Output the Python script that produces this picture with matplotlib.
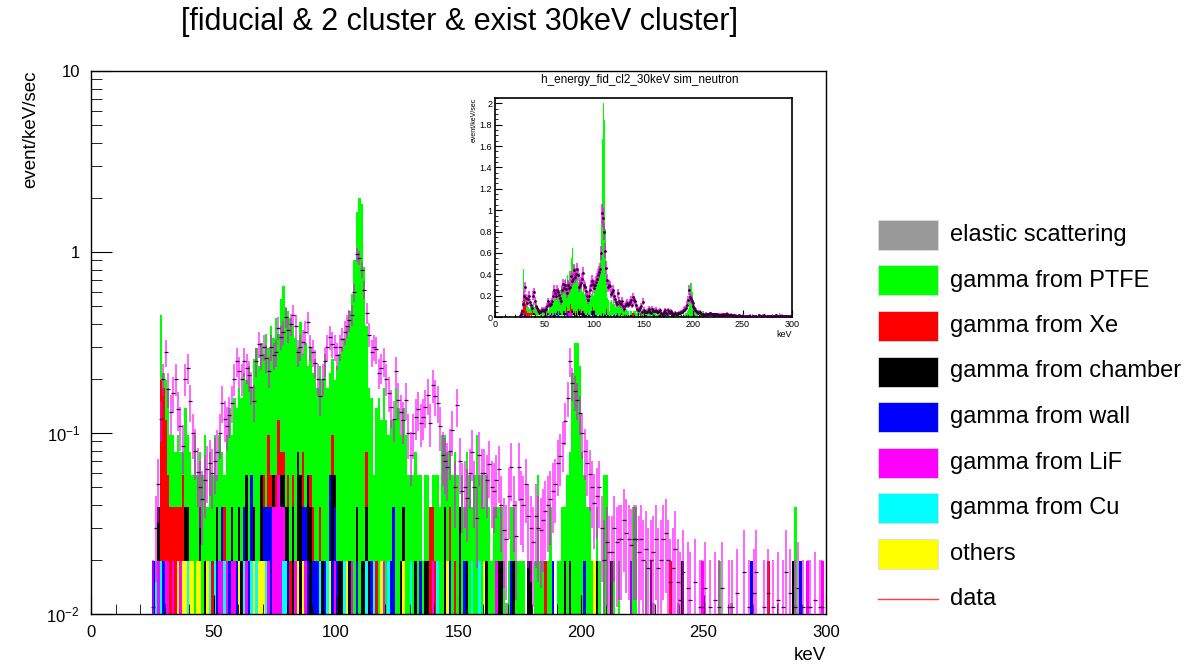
import numpy as np
import matplotlib
matplotlib.use('Agg')
import matplotlib.pyplot as plt
from matplotlib.patches import Rectangle
from matplotlib.lines import Line2D
from matplotlib.ticker import MultipleLocator, LogLocator, FixedLocator, FixedFormatter, NullFormatter

plt.rcParams['font.family'] = ['Liberation Sans', 'DejaVu Sans']
plt.rcParams['mathtext.fontset'] = 'custom'
plt.rcParams['mathtext.rm'] = 'Liberation Sans'

# 1 keV bins from 25 to 300 keV
edges = np.arange(25, 301)
unit = 0.0196          # event/keV/sec for one simulated event
elastic_unit = 0.0115  # elastic sample is scaled differently

labels = ['elastic scattering', 'gamma from PTFE', 'gamma from Xe', 'gamma from chamber',
          'gamma from wall', 'gamma from LiF', 'gamma from Cu', 'others']
colors = ['#999999', '#00ff00', '#ff0000', '#000000', '#0000ff', '#ff00ff', '#00ffff', '#ffff00']

# top of the simulated stack, in events per bin (25..299 keV)
stack_top = [
    1, 1, 2, 23, 11, 10, 9, 5, 5, 4, 5, 4, 4, 7, 5, 4, 3, 5, 3, 4, 3, 5, 2, 4, 3,
    5, 3, 5, 4, 3, 5, 7, 5, 8, 7, 9, 8, 11, 10, 12, 9, 13, 15, 12, 16, 14, 18, 15, 20, 17,
    22, 18, 28, 33, 25, 24, 22, 20, 17, 15, 21, 14, 16, 12, 15, 11, 13, 9, 12, 10, 14, 9, 11, 13, 10,
    12, 14, 15, 17, 20, 24, 30, 46, 85, 102, 94, 42, 20, 9, 8, 3, 7, 8, 6, 9, 6, 5, 6, 6, 9,
    7, 5, 7, 5, 3, 3, 3, 4, 3, 3, 1, 3, 3, 2, 3, 3, 3, 2, 5, 5, 4, 4, 3, 4, 3,
    2, 3, 2, 4, 3, 2, 3, 5, 3, 3, 2, 3, 2, 1, 2, 2, 2, 2, 1, 0, 1, 2, 2, 1, 1,
    1, 1, 0, 1, 1, 0, 1, 3, 1, 1, 1, 1, 2, 1, 0, 1, 1, 2, 2, 3, 4, 11, 16, 16, 12,
    4, 3, 2, 2, 1, 1, 2, 1, 0, 3, 3, 0, 1, 1, 0, 1, 0, 0, 0, 0, 1, 2, 2, 0, 0,
    0, 1, 0, 1, 0, 0, 0, 0, 0, 0, 0, 1, 0, 0, 0, 0, 1, 0, 0, 0, 0, 0, 0, 0, 1,
    0, 0, 0, 0, 0, 0, 1, 0, 0, 0, 0, 0, 0, 0, 0, 0, 0, 0, 0, 1, 0, 0, 0, 0, 0,
    0, 1, 0, 0, 0, 0, 0, 0, 0, 0, 0, 1, 2, 0, 1, 0, 0, 1, 0, 0, 0, 0, 0, 1, 0,
]

# energies (keV) of the events in the smaller samples
others_kev = [35, 37, 38, 40, 41, 43, 44, 47, 60, 66, 68, 69, 70, 84, 86, 97, 104, 118, 127,
              145, 160, 205]
cu_kev = [26, 28, 39, 48, 50, 54, 62, 65, 67, 71, 78, 79, 93, 96, 103, 112, 115, 121, 130,
          141, 155, 158]
lif_kev = [27, 30, 31, 33, 36, 52, 53, 55, 57, 58, 63, 72, 74, 74, 75, 75, 76, 76, 76, 77,
           77, 78, 83, 87, 99, 106, 119, 139, 165, 249, 292, 298]
wall_kev = [25, 29, 51, 53, 56, 59, 62, 64, 65, 65, 70, 71, 72, 73, 73, 80, 86, 87, 88, 90,
            91, 92, 95, 97, 97, 98, 99, 100, 108, 114, 122, 123, 123, 134, 146, 152, 171, 188,
            201, 220, 269, 289]
chamber_kev = [27, 38, 39, 44, 46, 51, 57, 60, 61, 63, 63, 66, 69, 69, 74, 77, 78, 79, 80, 82,
               82, 84, 84, 84, 85, 85, 85, 88, 88, 89, 89, 94, 98, 98, 99, 101, 102, 105, 108,
               110, 111, 112, 113, 126, 127, 132, 136, 137, 144, 144, 150, 150, 153, 161, 166,
               167, 172, 178, 179, 193, 195, 206, 212, 228, 241, 286]
xe_kev = [28, 28, 28, 28, 28, 28, 28, 28, 28, 29, 29, 29, 29, 29, 29, 29, 29,
          30, 30, 30, 30, 30, 31, 31, 32, 32, 33, 34, 34, 35, 36, 37, 37, 49, 54, 70, 72, 72,
          72, 73, 75, 76, 76, 76, 77, 78, 80, 81, 82, 86, 86, 89, 90, 93, 98, 98, 112, 112,
          116, 138, 138, 139, 140, 146, 148, 185, 236, 276]
elastic_kev = [169, 229, 239, 250, 261, 280]

# measured spectrum (event/keV/sec) and its errors, 25..299 keV
data_val = [
    0.011, 0.03, 0.052, 0.12, 0.2, 0.28, 0.176, 0.13, 0.167, 0.2, 0.136, 0.11, 0.085, 0.2, 0.23,
    0.15, 0.1, 0.08, 0.061, 0.05, 0.043, 0.055, 0.063, 0.068, 0.06,
    0.07, 0.079, 0.1, 0.147, 0.12, 0.11, 0.126, 0.147, 0.2, 0.25, 0.22, 0.2, 0.25, 0.23, 0.21,
    0.18, 0.15, 0.25, 0.31, 0.27, 0.3, 0.26, 0.22, 0.3, 0.27,
    0.28, 0.38, 0.34, 0.36, 0.44, 0.37, 0.4, 0.45, 0.39, 0.28, 0.3, 0.32, 0.36, 0.41, 0.3,
    0.28, 0.245, 0.2, 0.16, 0.2, 0.25, 0.3, 0.34, 0.31, 0.3,
    0.27, 0.3, 0.33, 0.36, 0.39, 0.42, 0.45, 0.6, 0.97, 0.93, 0.8, 0.62, 0.46, 0.35, 0.28,
    0.3, 0.29, 0.215, 0.23, 0.25, 0.2, 0.167, 0.14, 0.12, 0.22,
    0.153, 0.13, 0.118, 0.153, 0.1, 0.076, 0.1, 0.123, 0.135, 0.114, 0.123, 0.14, 0.162, 0.114,
    0.185, 0.16, 0.147, 0.11, 0.076, 0.07, 0.065, 0.08, 0.104, 0.05, 0.142,
    0.07, 0.048, 0.05, 0.044, 0.06, 0.079, 0.05, 0.034, 0.076, 0.06, 0.06, 0.055, 0.067, 0.05,
    0.048, 0.055, 0.063, 0.04, 0.029, 0.026, 0.045, 0.065, 0.04, 0.027, 0.065,
    0.043, 0.04, 0.052, 0.035, 0.03, 0.025, 0.035, 0.03, 0.029, 0.033, 0.037, 0.04, 0.043, 0.048,
    0.052, 0.068, 0.075, 0.088, 0.116, 0.157, 0.25, 0.19, 0.17, 0.153, 0.129,
    0.1, 0.08, 0.068, 0.059, 0.05, 0.041, 0.045, 0.05, 0.03, 0.02, 0.025, 0.022, 0.022, 0.03,
    0.025, 0.026, 0.026, 0.033, 0.028, 0.026, 0.024, 0.026, 0.026, 0.022, 0.026,
    0.02, 0.023, 0.018, 0.02, 0.022, 0.026, 0.018, 0.02, 0.026, 0.028, 0.02, 0.015, 0.018, 0.023,
    0.015, 0.012, 0.017, 0, 0.014, 0.012, 0, 0.015, 0, 0.011, 0.011,
    0.014, 0, 0.011, 0, 0.012, 0, 0.011, 0.014, 0, 0, 0.011, 0.011, 0, 0.013, 0, 0, 0.017, 0,
    0.011, 0, 0.013, 0.017, 0, 0, 0.011,
    0, 0.013, 0, 0.011, 0, 0.012, 0, 0.011, 0.017, 0, 0.013, 0, 0.011, 0.014, 0, 0.011, 0,
    0.011, 0.011, 0, 0.012, 0, 0.011, 0.011, 0,
]
data_err = [
    0.009, 0.015, 0.020, 0.031, 0.040, 0.047, 0.038, 0.032, 0.037, 0.040, 0.033, 0.030, 0.026,
    0.040, 0.043, 0.035, 0.028, 0.025, 0.022, 0.020, 0.019, 0.021, 0.022, 0.023, 0.022,
    0.024, 0.025, 0.028, 0.034, 0.031, 0.030, 0.032, 0.034, 0.040, 0.045, 0.042, 0.040, 0.045,
    0.043, 0.041, 0.038, 0.035, 0.045, 0.050, 0.046, 0.049, 0.046, 0.042, 0.049, 0.046,
    0.047, 0.055, 0.052, 0.054, 0.059, 0.054, 0.057, 0.060, 0.056, 0.047, 0.049, 0.051, 0.054,
    0.057, 0.049, 0.047, 0.044, 0.040, 0.036, 0.040, 0.045, 0.049, 0.052, 0.050, 0.049,
    0.046, 0.049, 0.051, 0.054, 0.056, 0.058, 0.060, 0.069, 0.088, 0.086, 0.080, 0.070, 0.061,
    0.053, 0.047, 0.049, 0.048, 0.041, 0.043, 0.045, 0.040, 0.037, 0.033, 0.031, 0.042,
    0.035, 0.032, 0.031, 0.035, 0.028, 0.025, 0.028, 0.031, 0.033, 0.030, 0.031, 0.033, 0.036,
    0.030, 0.038, 0.036, 0.034, 0.030, 0.025, 0.024, 0.023, 0.025, 0.029, 0.020, 0.034,
    0.024, 0.020, 0.020, 0.019, 0.022, 0.025, 0.020, 0.016, 0.025, 0.022, 0.022, 0.021, 0.023,
    0.020, 0.020, 0.021, 0.022, 0.018, 0.015, 0.014, 0.019, 0.023, 0.018, 0.015, 0.023,
    0.019, 0.018, 0.020, 0.017, 0.015, 0.014, 0.017, 0.015, 0.015, 0.016, 0.017, 0.018, 0.019,
    0.020, 0.020, 0.023, 0.024, 0.027, 0.030, 0.035, 0.045, 0.039, 0.037, 0.035, 0.032,
    0.028, 0.025, 0.023, 0.022, 0.020, 0.018, 0.019, 0.020, 0.015, 0.013, 0.014, 0.013, 0.013,
    0.015, 0.014, 0.014, 0.014, 0.016, 0.015, 0.014, 0.014, 0.014, 0.014, 0.013, 0.014,
    0.013, 0.014, 0.012, 0.013, 0.013, 0.014, 0.012, 0.013, 0.014, 0.015, 0.013, 0.011, 0.012,
    0.014, 0.011, 0.010, 0.012, 0, 0.011, 0.010, 0, 0.011, 0, 0.009, 0.009,
    0.011, 0, 0.009, 0, 0.010, 0, 0.009, 0.011, 0, 0, 0.009, 0.009, 0, 0.010, 0, 0, 0.012, 0,
    0.009, 0, 0.010, 0.012, 0, 0, 0.009,
    0, 0.010, 0, 0.009, 0, 0.010, 0, 0.009, 0.012, 0, 0.010, 0, 0.009, 0.011, 0, 0.009, 0,
    0.009, 0.009, 0, 0.010, 0, 0.009, 0.009, 0,
]


def counts(kev):
    return np.histogram(kev, bins=edges)[0]


minor = [counts(others_kev), counts(cu_kev), counts(lif_kev), counts(wall_kev),
         counts(chamber_kev), counts(xe_kev)]
# PTFE is whatever is left up to the top of the stack
ptfe = np.clip(np.array(stack_top) - np.sum(minor, axis=0), 0, None)

# bottom -> top drawing order
layers = [m * unit for m in minor] + [ptfe * unit, counts(elastic_kev) * elastic_unit]
layer_colors = [colors[7], colors[6], colors[5], colors[4], colors[3], colors[2], colors[1], colors[0]]
cum = np.cumsum(layers, axis=0)

centers = edges[:-1] + 0.5
dv = np.array(data_val)
de = np.array(data_err)
ok = dv > 0


def draw_stack(a, base):
    for k in reversed(range(len(layers))):
        h = np.where(cum[k] > 0, cum[k], base)
        a.stairs(h, edges, baseline=base, fill=True, color=layer_colors[k], lw=0)


fig = plt.figure(figsize=(12.04, 6.68), dpi=100)

# ---- main pad ----
ax = fig.add_axes([91 / 1204, 54 / 668, 735 / 1204, 543 / 668])
ax.set_yscale('log')
draw_stack(ax, 1e-4)
lo = np.minimum(de[ok], dv[ok] - 1e-4)
ax.errorbar(centers[ok], dv[ok], yerr=[lo, de[ok]], fmt='none', ecolor='#ff00ff',
            elinewidth=1.2, alpha=0.7, zorder=5)
ax.plot(centers[ok], dv[ok], ls='none', marker='_', ms=2.5, mew=0.9, color='#3a003a', zorder=6)

ax.set_xlim(0, 300)
ax.set_ylim(0.01, 10)
ax.xaxis.set_major_locator(MultipleLocator(50))
ax.xaxis.set_minor_locator(MultipleLocator(10))
ax.yaxis.set_major_locator(FixedLocator([0.01, 0.1, 1, 10]))
ax.yaxis.set_major_formatter(FixedFormatter([r'$\mathregular{10^{-2}}$', r'$\mathregular{10^{-1}}$', '1', '10']))
ax.yaxis.set_minor_locator(LogLocator(base=10, subs=np.arange(2, 10)))
ax.yaxis.set_minor_formatter(NullFormatter())
ax.tick_params(which='both', direction='in', top=False, right=False, labelsize=12)
ax.tick_params(axis='x', which='major', length=14, pad=8)
ax.tick_params(axis='x', which='minor', length=7)
ax.tick_params(axis='y', which='major', length=15, pad=8)
ax.tick_params(axis='y', which='minor', length=8)
for s in ax.spines.values():
    s.set_linewidth(1.0)

ax.set_ylabel('event/keV/sec', fontsize=13.5, loc='top')
ax.yaxis.set_label_coords(-0.07, 1.0)
ax.set_xlabel('keV', fontsize=13.5, loc='right')
ax.xaxis.set_label_coords(1.0, -0.06)

fig.text(459 / 1204, 1 - 22 / 668, '[fiducial & 2 cluster & exist 30keV cluster]',
         ha='center', va='center', fontsize=22)

# ---- inset pad ----
ax2 = fig.add_axes([495 / 1204, 1 - 317 / 668, 297 / 1204, 219 / 668])
draw_stack(ax2, 0)
ax2.errorbar(centers[ok], dv[ok], yerr=de[ok], fmt='none', ecolor='#ff00ff',
             elinewidth=1.2, alpha=0.85, zorder=5)
ax2.plot(centers[ok], dv[ok], ls='none', marker='.', ms=2, color='#300030', zorder=6)
ax2.set_xlim(0, 300)
ax2.set_ylim(0, 2.05)
ax2.xaxis.set_major_locator(MultipleLocator(50))
ax2.xaxis.set_minor_locator(MultipleLocator(10))
ax2.yaxis.set_major_locator(MultipleLocator(0.2))
ax2.yaxis.set_minor_locator(MultipleLocator(0.05))
ax2.yaxis.set_major_formatter(lambda v, p: '%g' % round(v, 1))
ax2.tick_params(which='both', direction='in', top=False, right=False, labelsize=6.5, pad=2)
ax2.tick_params(which='major', length=5)
ax2.tick_params(which='minor', length=2.5)
for s in ax2.spines.values():
    s.set_linewidth(1.2)
ax2.set_ylabel('event/keV/sec', fontsize=5, loc='top', labelpad=1)
ax2.set_xlabel('keV', fontsize=6.5, loc='right', labelpad=1)
fig.text(640 / 1204, 1 - 80 / 668, 'h_energy_fid_cl2_30keV sim_neutron',
         ha='center', va='center', fontsize=8.5)

# ---- legend ----
row_y = [235 + 45.5 * i for i in range(9)]
for i, (lab, col) in enumerate(zip(labels, colors)):
    y = row_y[i]
    fig.patches.append(Rectangle((878 / 1204, 1 - (y + 15) / 668), 60 / 1204, 30 / 668,
                                 transform=fig.transFigure, facecolor=col,
                                 edgecolor='#dddddd', lw=0.6))
    fig.text(950 / 1204, 1 - y / 668, lab, ha='left', va='center', fontsize=17)
fig.add_artist(Line2D([878 / 1204, 938 / 1204], [1 - row_y[8] / 668] * 2,
                      transform=fig.transFigure, color='#ff4040', lw=1))
fig.text(950 / 1204, 1 - row_y[8] / 668, 'data', ha='left', va='center', fontsize=17)

fig.savefig('out.png', dpi=100)
